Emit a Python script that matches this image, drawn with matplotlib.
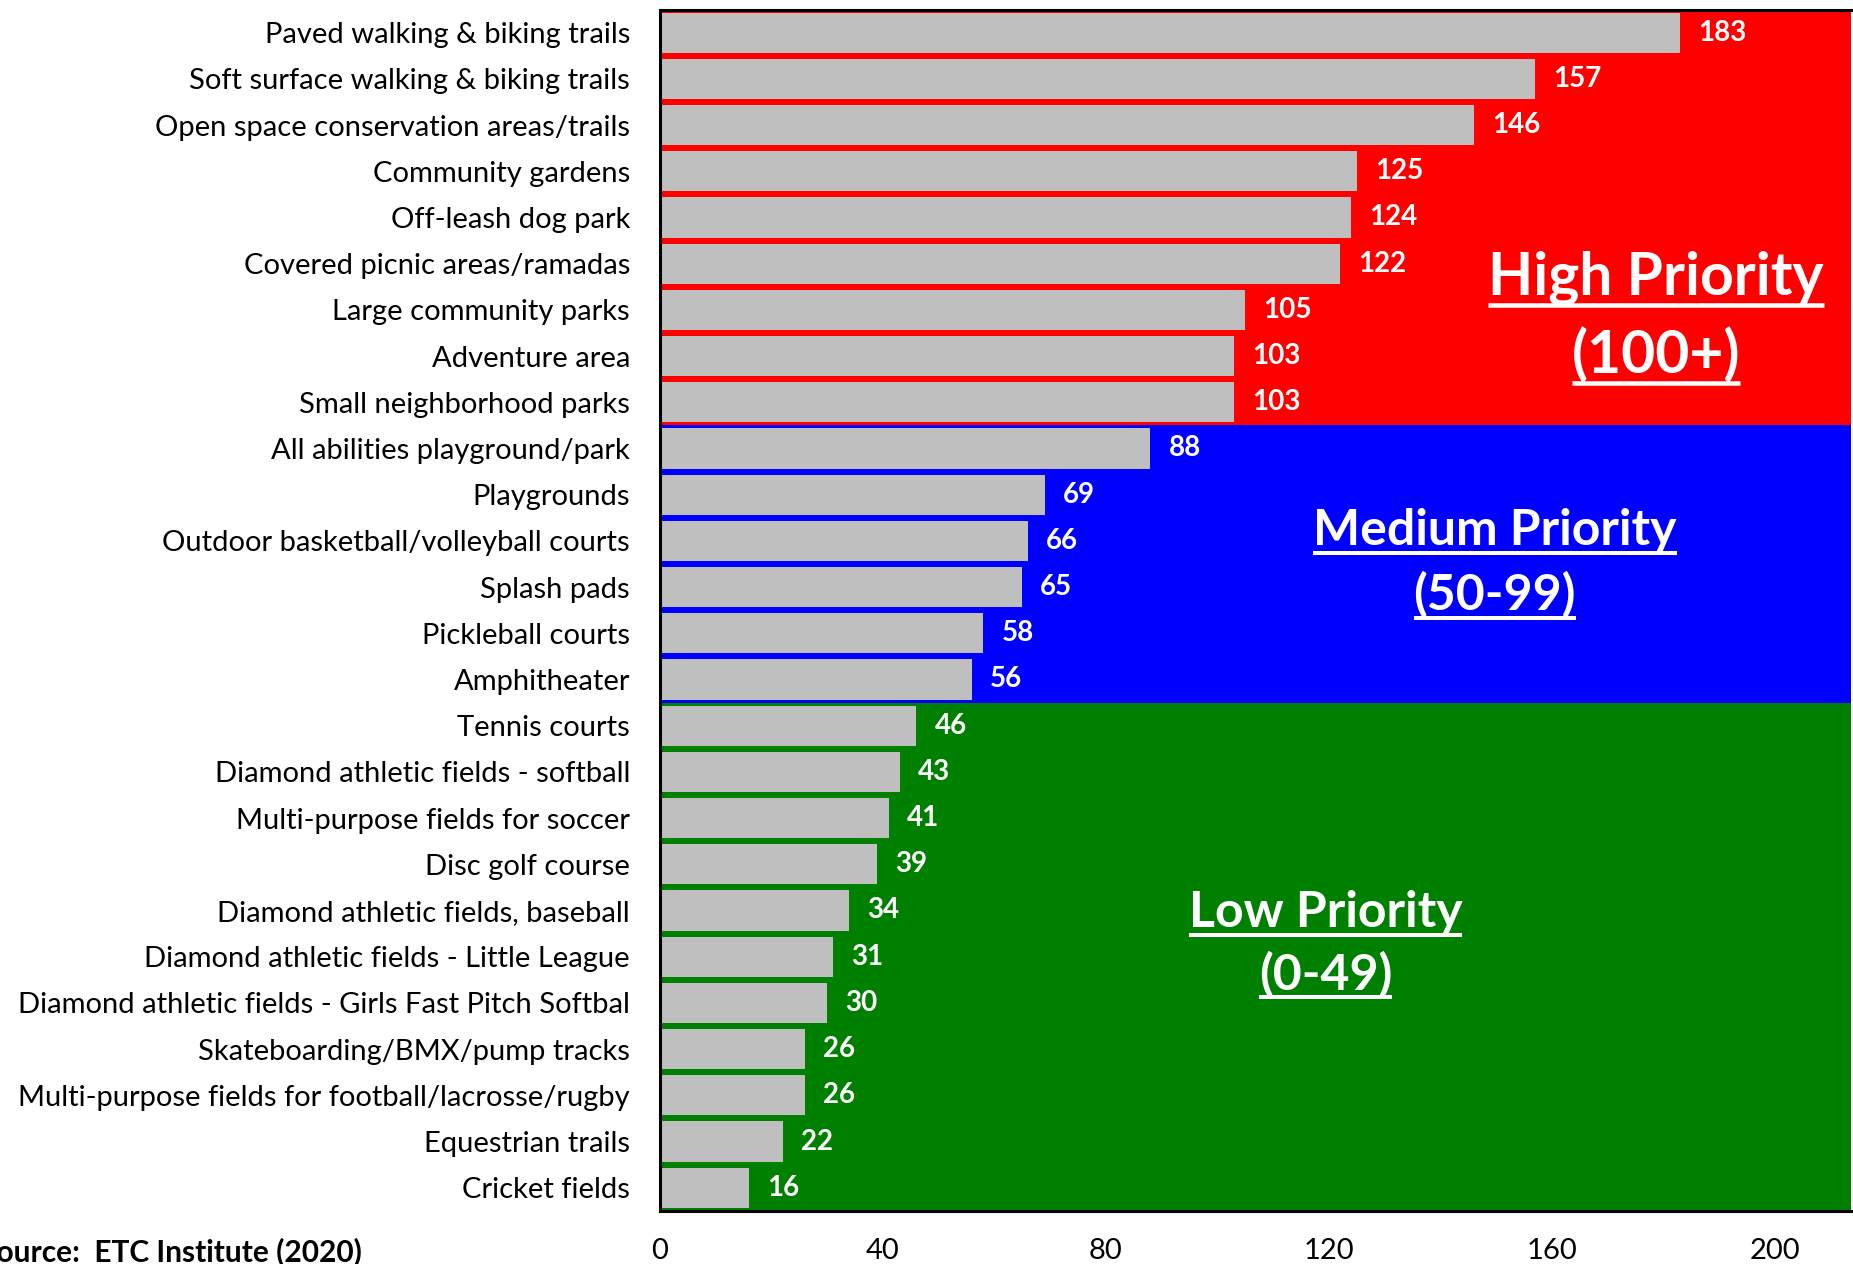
import matplotlib
matplotlib.use("Agg")
import matplotlib.pyplot as plt
from matplotlib.lines import Line2D

plt.rcParams['font.family'] = ['Lato', 'DejaVu Sans']

# Facility priority scores
categories = [
    "Paved walking & biking trails",
    "Soft surface walking & biking trails",
    "Open space conservation areas/trails",
    "Community gardens",
    "Off-leash dog park",
    "Covered picnic areas/ramadas",
    "Large community parks",
    "Adventure area",
    "Small neighborhood parks",
    "All abilities playground/park",
    "Playgrounds",
    "Outdoor basketball/volleyball courts",
    "Splash pads",
    "Pickleball courts",
    "Amphitheater",
    "Tennis courts",
    "Diamond athletic fields - softball",
    "Multi-purpose fields for soccer",
    "Disc golf course",
    "Diamond athletic fields, baseball",
    "Diamond athletic fields - Little League",
    "Diamond athletic fields - Girls Fast Pitch Softbal",
    "Skateboarding/BMX/pump tracks",
    "Multi-purpose fields for football/lacrosse/rugby",
    "Equestrian trails",
    "Cricket fields",
]
scores = [183, 157, 146, 125, 124, 122, 105, 103, 103, 88, 69, 66, 65,
          58, 56, 46, 43, 41, 39, 34, 31, 30, 26, 26, 22, 16]
x_ticks = [0, 40, 80, 120, 160, 200]

tier_titles = ["High Priority", "Medium Priority", "Low Priority"]
tier_ranges = ["(100+)", "(50-99)", "(0-49)"]
tier_min = [100, 50, 0]
tier_colors = ["#FF0000", "#0000FF", "#008000"]

source_note = "Source:  ETC Institute (2020)"

W, H = 1853, 1264
fig = plt.figure(figsize=(W / 100, H / 100), dpi=100)
ax = fig.add_axes([660 / W, (H - 1210.8) / H, (1851 - 660) / W, (1210.8 - 9.6) / H])

n = len(categories)
ypos = list(range(n))

# Coloured tier bands behind the bars
start = -0.5
upper = float("inf")
for lo, col in zip(tier_min, tier_colors):
    idx = [i for i, v in enumerate(scores) if lo <= v < upper]
    upper = lo
    if not idx:
        continue
    end = max(idx) + 0.5
    ax.axhspan(start, end, color=col, zorder=0, lw=0)
    start = end

ax.barh(ypos, scores, height=0.866, color="#BFBFBF", zorder=2)

for i, v in enumerate(scores):
    ax.annotate(str(v), xy=(v, i), xytext=(13, 0), textcoords="offset points",
                ha="left", va="center", color="white", fontweight="bold",
                fontsize=20, zorder=3)

ax.set_xlim(0, 213.7)
ax.set_ylim(n - 0.5, -0.5)
ax.set_yticks(ypos)
ax.set_yticklabels(categories, fontsize=21)
ax.set_xticks(x_ticks)
ax.set_xticklabels([str(t) for t in x_ticks], fontsize=21)
ax.tick_params(axis="y", length=0, pad=21.6)
ax.tick_params(axis="x", length=0, pad=19.5)

for side in ("left", "top", "bottom"):
    ax.spines[side].set_linewidth(2.2)
    ax.spines[side].set_color("black")
ax.spines["right"].set_visible(False)

# Tier headings (x in data units, baseline y in category units)
heading_layout = [
    (178.7, 5.68, 7.37, 42.3, 9.5, 4.5),
    (149.8, 11.09, 12.50, 36, 8.0, 4.0),
    (119.4, 19.36, 20.72, 36, 7.5, 4.0),
]
texts = []
for (x, y1, y2, fs, off, thick), t1, t2 in zip(heading_layout, tier_titles, tier_ranges):
    for y, s in ((y1, t1), (y2, t2)):
        t = ax.text(x, y, s, ha="center", va="baseline", color="white",
                    fontweight="bold", fontsize=fs, zorder=4)
        texts.append((t, x, y, off, thick))

fig.text(362 / W, (H - 1261) / H, source_note, ha="right", va="baseline",
         fontweight="bold", fontsize=21.5, color="black")

# Underline each heading line
fig.canvas.draw()
renderer = fig.canvas.get_renderer()
inv = fig.transFigure.inverted()
for t, x, y, off, thick in texts:
    bb = t.get_window_extent(renderer)
    base = ax.transData.transform((x, y))[1]
    yl = base - off
    (x0, y0), (x1, _) = inv.transform([(bb.x0, yl), (bb.x1, yl)])
    fig.add_artist(Line2D([x0, x1], [y0, y0], transform=fig.transFigure,
                          color="white", linewidth=thick * 0.72,
                          solid_capstyle="butt", zorder=5))

fig.savefig("out.png", dpi=100)
